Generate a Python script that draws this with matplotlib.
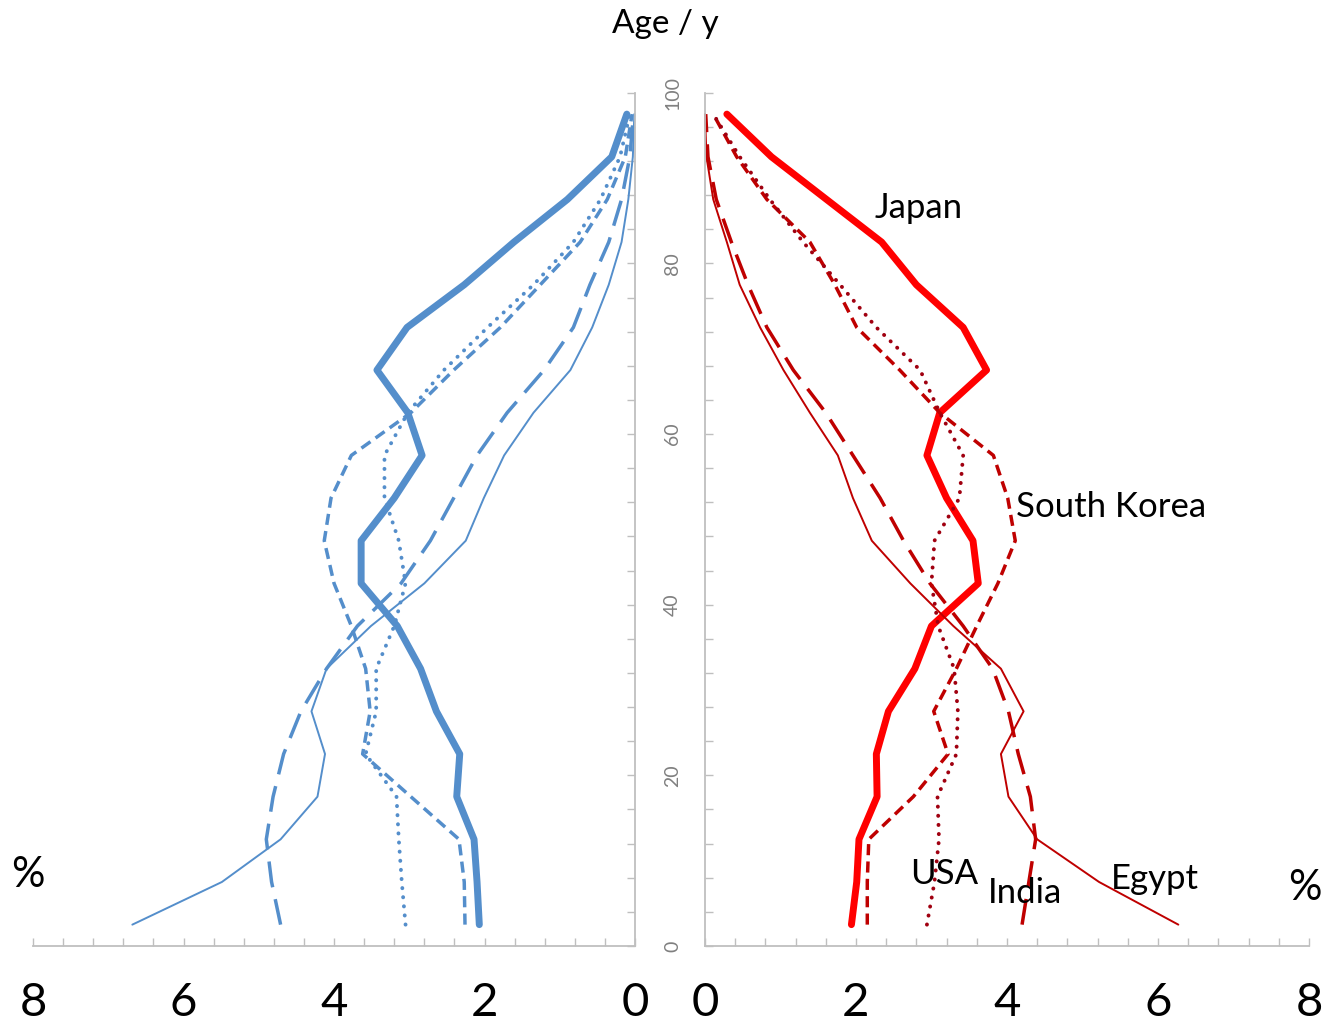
import matplotlib
matplotlib.use('Agg')
import matplotlib.pyplot as plt
import numpy as np

plt.rcParams['font.family'] = ['Lato', 'DejaVu Sans']

# age group mid points (years)
ages = [2.5, 7.5, 12.5, 17.5, 22.5, 27.5, 32.5, 37.5, 42.5, 47.5,
        52.5, 57.5, 62.5, 67.5, 72.5, 77.5, 82.5, 87.5, 92.5, 97.5]

# left (blue) panel, % of population per age group
japan_l = [2.07, 2.10, 2.14, 2.37, 2.33, 2.64, 2.85, 3.16, 3.64, 3.64,
           3.20, 2.83, 3.02, 3.43, 3.03, 2.27, 1.61, 0.90, 0.31, 0.11]
korea_l = [2.26, 2.27, 2.34, 2.98, 3.62, 3.52, 3.58, 3.77, 4.00, 4.13,
           4.04, 3.77, 2.98, 2.41, 1.79, 1.26, 0.73, 0.37, 0.13, 0.04]
usa_l = [3.05, 3.10, 3.14, 3.17, 3.58, 3.44, 3.44, 3.20, 3.05, 3.14,
         3.33, 3.33, 3.02, 2.54, 1.96, 1.35, 0.82, 0.46, 0.20, 0.07]
india_l = [4.71, 4.83, 4.90, 4.81, 4.67, 4.44, 4.10, 3.69, 3.11, 2.72,
           2.41, 2.10, 1.70, 1.21, 0.82, 0.60, 0.35, 0.18, 0.07, 0.02]
egypt_l = [6.68, 5.49, 4.71, 4.22, 4.12, 4.30, 4.10, 3.51, 2.80, 2.25,
           2.01, 1.74, 1.35, 0.86, 0.57, 0.35, 0.18, 0.09, 0.03, 0.01]

# right (red) panel
japan_r = [1.94, 2.01, 2.04, 2.28, 2.27, 2.43, 2.78, 3.00, 3.62, 3.55,
           3.20, 2.94, 3.11, 3.73, 3.42, 2.80, 2.34, 1.61, 0.88, 0.29]
korea_r = [2.15, 2.15, 2.17, 2.76, 3.22, 3.03, 3.33, 3.60, 3.88, 4.11,
           4.01, 3.82, 3.11, 2.58, 2.01, 1.72, 1.39, 0.82, 0.42, 0.11]
usa_r = [2.94, 3.04, 3.10, 3.08, 3.33, 3.35, 3.30, 3.09, 3.00, 3.04,
         3.37, 3.42, 3.11, 2.85, 2.27, 1.79, 1.30, 0.86, 0.46, 0.11]
india_r = [4.20, 4.29, 4.38, 4.31, 4.15, 4.02, 3.81, 3.42, 2.98, 2.63,
           2.32, 1.96, 1.60, 1.17, 0.82, 0.57, 0.35, 0.15, 0.04, 0.01]
egypt_r = [6.27, 5.22, 4.40, 4.02, 3.92, 4.22, 3.92, 3.29, 2.72, 2.21,
           1.96, 1.76, 1.39, 1.04, 0.73, 0.46, 0.29, 0.11, 0.02, 0.00]

blue = '#548ECB'
red = '#FF0000'
dark_red = '#BF0000'
axis_grey = '#BFBFBF'

styles = {
    'Japan': dict(lw=5.0, ls='-'),
    'South Korea': dict(lw=2.5, ls=(0, (3.2, 1.8))),
    'USA': dict(lw=2.8, ls=(0, (0.05, 2.3)), dash_capstyle='round'),
    'India': dict(lw=2.5, ls=(0, (7.5, 3.5))),
    'Egypt': dict(lw=1.4, ls='-'),
}

left_data = {'Japan': japan_l, 'South Korea': korea_l, 'USA': usa_l,
             'India': india_l, 'Egypt': egypt_l}
right_data = {'Japan': japan_r, 'South Korea': korea_r, 'USA': usa_r,
              'India': india_r, 'Egypt': egypt_r}

fig = plt.figure(figsize=(13.41, 10.23), dpi=100)
axL = fig.add_axes([0.0246, 0.0753, 0.449, 0.834])
axR = fig.add_axes([0.5257, 0.0753, 0.4504, 0.834])

for name, vals in left_data.items():
    axL.plot(vals, ages, color=blue, solid_capstyle='round', clip_on=False,
             **styles[name])

for name, vals in right_data.items():
    col = red if name == 'Japan' else dark_red
    if name == 'USA':
        col = '#A00010'
    axR.plot(vals, ages, color=col, solid_capstyle='round', clip_on=False,
             **styles[name])


def setup(ax, side):
    ax.set_ylim(0, 100)
    ax.set_xticks([0, 2, 4, 6, 8])
    ax.set_xticks(np.arange(0, 8.01, 0.4), minor=True)
    ax.set_yticks(np.arange(0, 101, 20))
    ax.set_yticks(np.arange(0, 101, 4), minor=True)
    ax.spines['top'].set_visible(False)
    for s in ['left', 'right', 'bottom']:
        ax.spines[s].set_color(axis_grey)
        ax.spines[s].set_linewidth(1.3)
    ax.tick_params(which='both', direction='in', length=6, width=1,
                   color=axis_grey)
    ax.tick_params(axis='x', which='major', pad=26, labelsize=34,
                   labelcolor='black')
    if side == 'left':
        ax.set_xlim(8, 0)
        ax.spines['left'].set_visible(False)
        ax.yaxis.tick_right()
        ax.tick_params(axis='y', which='major', labelsize=14,
                       labelcolor='#808080', labelrotation=90, pad=21)
        for lab in ax.get_yticklabels():
            lab.set_verticalalignment('center')
    else:
        ax.set_xlim(0, 8)
        ax.spines['right'].set_visible(False)
        ax.tick_params(axis='y', which='both', labelleft=False)


setup(axL, 'left')
setup(axR, 'right')

# country labels on the right panel
lab_kw = dict(fontsize=25, color='black', va='center', ha='left')
axR.text(2.25, 86.5, 'Japan', **lab_kw)
axR.text(4.12, 51.5, 'South Korea', **lab_kw)
axR.text(2.72, 8.4, 'USA', **lab_kw)
axR.text(3.75, 6.2, 'India', **lab_kw)
axR.text(5.38, 7.8, 'Egypt', **lab_kw)

fig.text(665 / 1341, 1 - 24 / 1023, 'Age / y', fontsize=24,
         ha='center', va='center')
fig.text(28 / 1341, 1 - 875 / 1023, '%', fontsize=30, ha='center', va='center')
fig.text(1305 / 1341, 1 - 888 / 1023, '%', fontsize=30, ha='center', va='center')

fig.savefig('out.png', dpi=100)
